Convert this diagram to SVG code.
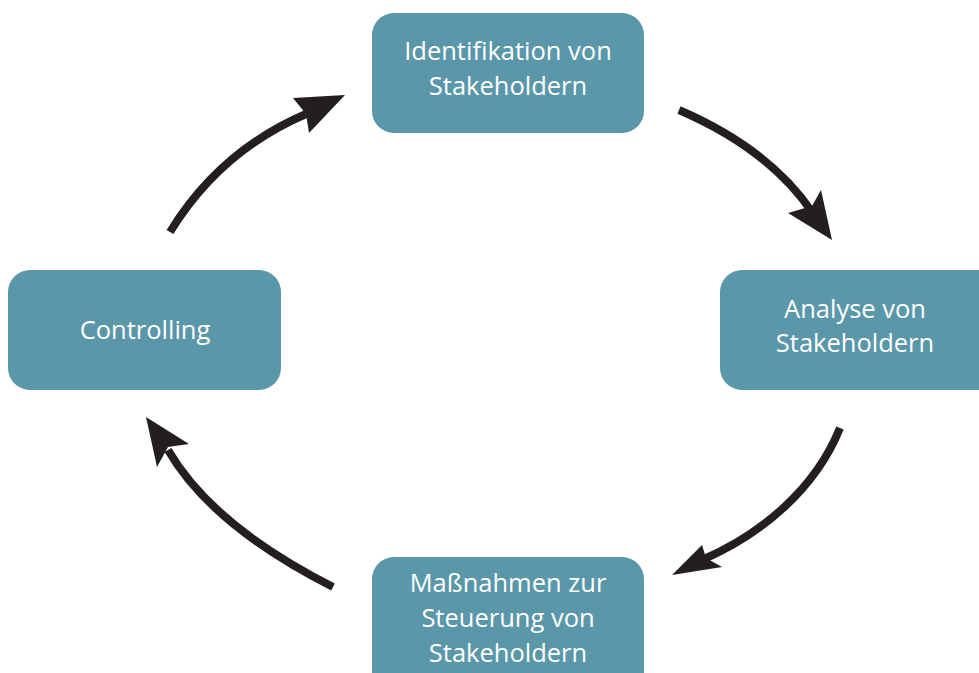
<svg xmlns="http://www.w3.org/2000/svg" width="979" height="673" viewBox="0 0 979 673">
<style>
.box{fill:#5a97a9}
.t{font-family:"Open Sans","Noto Sans",sans-serif;font-size:25.5px;font-weight:500;fill:#ffffff;text-anchor:middle}
.arc{fill:none;stroke:#231f20;stroke-width:8}
.head{fill:#231f20}
</style>
<rect width="979" height="673" fill="#ffffff"/>
<g id="node-identifikation">
<rect class="box" x="372" y="13" width="272" height="120" rx="22"/>
<text class="t" x="508" y="60">Identifikation von</text>
<text class="t" x="508" y="95">Stakeholdern</text>
</g>
<g id="node-analyse">
<rect class="box" x="720" y="270" width="290" height="120" rx="22"/>
<text class="t" x="855" y="318">Analyse von</text>
<text class="t" x="855" y="352">Stakeholdern</text>
</g>
<g id="node-massnahmen">
<rect class="box" x="372" y="557" width="272" height="140" rx="22"/>
<text class="t" x="508" y="592">Maßnahmen zur</text>
<text class="t" x="508" y="627">Steuerung von</text>
<text class="t" x="508" y="662">Stakeholdern</text>
</g>
<g id="node-controlling">
<rect class="box" x="8" y="270" width="273" height="120" rx="22"/>
<text class="t" x="145" y="339">Controlling</text>
</g>
<g id="connectors">
<path class="arc" d="M679,110 C730,132 780,165 812,212"/>
<polygon class="head" points="832,240 788,213 812,206 821,190"/>
<path class="arc" d="M840,428 C815,490 760,535 702,560"/>
<polygon class="head" points="672,575 702,545 706,558 722,567"/>
<path class="arc" d="M333,587 C260,550 200,505 168,450"/>
<polygon class="head" points="146,417 189,444 168,447 157,467"/>
<path class="arc" d="M170,232 C205,175 250,138 306,114"/>
<polygon class="head" points="345,95 309,133 306,114 293,98"/>
</g>
</svg>
